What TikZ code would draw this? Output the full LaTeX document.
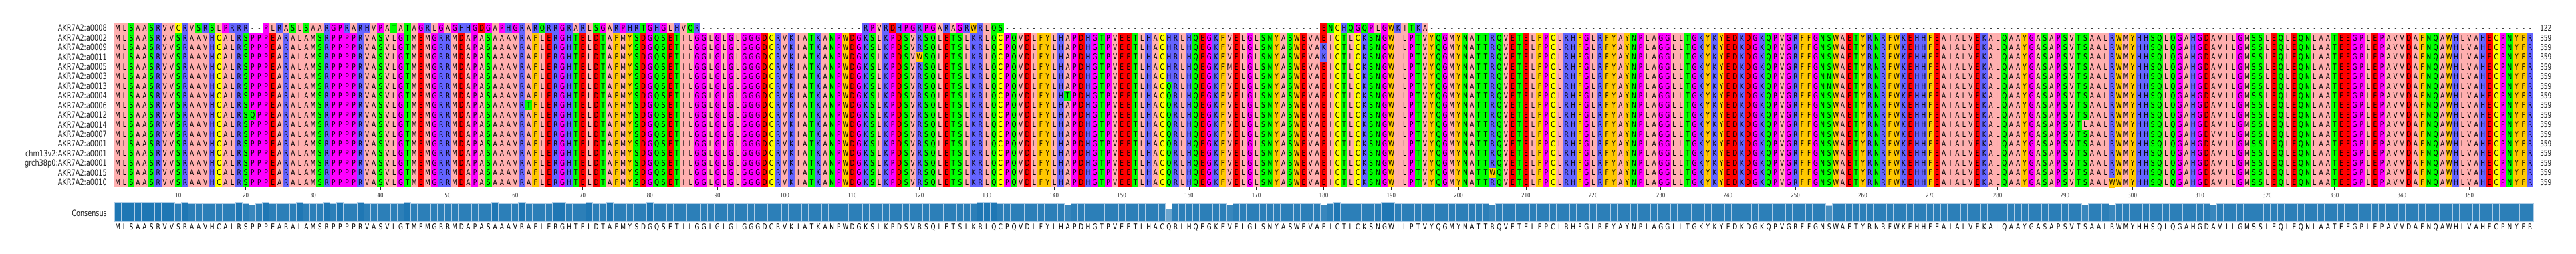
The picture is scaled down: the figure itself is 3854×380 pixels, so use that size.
\documentclass[tikz,border=0pt]{standalone}
\usepackage{fontspec}
\newfontfamily\dvs[FakeStretch=0.75]{DejaVu Sans}
\definecolor{zA}{HTML}{FFAFAF}\definecolor{zI}{HTML}{FFAFAF}\definecolor{zL}{HTML}{FFAFAF}
\definecolor{zV}{HTML}{FFAFAF}\definecolor{zM}{HTML}{FFAFAF}
\definecolor{zF}{HTML}{FFC800}\definecolor{zW}{HTML}{FFC800}\definecolor{zY}{HTML}{FFC800}
\definecolor{zK}{HTML}{6464FF}\definecolor{zR}{HTML}{6464FF}\definecolor{zH}{HTML}{6464FF}
\definecolor{zD}{HTML}{FF0000}\definecolor{zE}{HTML}{FF0000}
\definecolor{zS}{HTML}{00FF00}\definecolor{zT}{HTML}{00FF00}\definecolor{zN}{HTML}{00FF00}\definecolor{zQ}{HTML}{00FF00}
\definecolor{zP}{HTML}{FF00FF}\definecolor{zG}{HTML}{FF00FF}
\definecolor{zC}{HTML}{FFFF00}
\definecolor{barblue}{HTML}{1F77B4}
\definecolor{baredge}{RGB}{175,205,230}
\definecolor{txt}{HTML}{262626}
\tikzset{
  seqrow/.style={anchor=base west, yshift=-4.4pt, inner sep=0pt, text=black, font=\dvs\fontsize{12}{12}\selectfont},
  lab/.style={inner sep=0pt, text=txt, font=\dvs\fontsize{13}{13}\selectfont},
  numlab/.style={inner sep=0pt, text=txt, font=\dvs\fontsize{12}{12}\selectfont},
  ticklab/.style={inner sep=0pt, text=txt, font=\dvs\fontsize{9.5}{9.5}\selectfont},
  tickline/.style={draw=txt, line width=0.8pt},
  barstyle/.style={draw=baredge, line width=0.8pt}
}
\newcount\cc
\def\setcnt#1#2{\expandafter\def\csname cnt:#1\endcsname{#2}}
\def\runseq#1{\global\cc=0 \expandafter\doseq#1\relax}
\def\doseq#1{\ifx#1\relax\else\global\advance\cc by 1\relax\cellhook{#1}\expandafter\doseq\fi}
% text cell: fixed-pitch box, with override lookup
\def\txtcell#1{\edef\thechar{\ifcsname ov:\currow:\the\cc\endcsname\csname ov:\currow:\the\cc\endcsname\else#1\fi}\hbox to 10.0808pt{\hss\thechar\hss}}
% background of row 1
\def\onefill#1{\if#1-\else\fill[z#1] (\the\cc-1,0) rectangle (\the\cc+0.04,1.04);\fi}
% background of rows 2..17, one rectangle per column
\def\colfill#1{\fill[z#1] (\the\cc-1,1) rectangle (\the\cc+0.04,17);}
\def\mkdashes#1#2{\def#1{}\count255=0 \loop\ifnum\count255<#2 \edef#1{#1-}\advance\count255 by 1 \repeat}
\mkdashes\dA{24}\mkdashes\dB{47}\mkdashes\dC{164}
\edef\rowone{MLSAASRVVCRVSRSLPRRR--PLRASLSAARGPRARHVPATATAGRLGAGHHGDGAPHGRARQRRGRARLSGARPHRTGHGLHVQR\dA RPVRDHPGRPGARAGRWRLQS\dB ENCHQGQPLGWKITKA\dC}
\def\consensus{MLSAASRVVSRAAVHCALRSPPPEARALAMSRPPPPRVASVLGTMEMGRRMDAPASAAAVRAFLERGHTELDTAFMYSDGQSETILGGLGLGLGGGDCRVKIATKANPWDGKSLKPDSVRSQLETSLKRLQCPQVDLFYLHAPDHGTPVEETLHACQRLHQEGKFVELGLSNYASWEVAEICTLCKSNGWILPTVYQGMYNATTRQVETELFPCLRHFGLRFYAYNPLAGGLLTGKYKYEDKDGKQPVGRFFGNSWAETYRNRFWKEHHFEAIALVEKALQAAYGASAPSVTSAALRWMYHHSQLQGAHGDAVILGMSSLEQLEQNLAATEEGPLEPAVVDAFNQAWHLVAHECPNYFR}
% variants (row, column, residue)
\def\varlist{10/21/Q,9/62/T,4/120/W,8/142/T,2/157/H,3/157/H,4/157/H,5/157/H,6/157/H,5/166/M,3/180/K,4/180/K,16/205/W,6/255/N,7/255/N,11/293/L,17/297/W,12/312/V}
\foreach \r/\c/\a in \varlist {\global\expandafter\edef\csname ov:\r:\c\endcsname{\a}}
% consensus counts (default 16)
\foreach \c in {1,2,3,4,5,6,7,8,9,11,19,23,28,32,34,37,44,57,61,66,67,71,74,80,129,130,131,182,189,190} {\global\expandafter\def\csname cnt:\c\endcsname{17}}
\setcnt{21}{15}\setcnt{142}{15}\setcnt{157}{11}\setcnt{166}{15}\setcnt{180}{15}
\setcnt{205}{15}\setcnt{255}{14}\setcnt{293}{15}\setcnt{297}{15}\setcnt{312}{15}
\begin{document}
\begin{tikzpicture}[x=1pt,y=1pt]
\useasboundingbox (0,0) rectangle (3854,380);
\fill[white] (0,0) rectangle (3854,380);
% alignment
\begin{scope}[shift={(171,345)}, x=10.0808pt, y=-14.4118pt]
  \let\cellhook\onefill \runseq\rowone
  \let\cellhook\colfill \runseq\consensus
  \foreach \r/\c/\a in \varlist {\fill[z\a] (\c-1,\r-1) rectangle (\c+0.04,\r+0.04);}
  \let\cellhook\txtcell
  \def\currow{1}
  \node[seqrow] (row1) at (0,0.5) {\runseq\rowone};
  \foreach \r in {2,...,17} {
    \node[seqrow] (row\r) at (0,\r-0.5) {\edef\currow{\r}\runseq\consensus};
  }
\end{scope}
% labels
\foreach \lab [count=\r] in {AKR7A2:a0008,AKR7A2:a0002,AKR7A2:a0009,AKR7A2:a0011,AKR7A2:a0005,AKR7A2:a0003,AKR7A2:a0013,AKR7A2:a0004,AKR7A2:a0006,AKR7A2:a0012,AKR7A2:a0014,AKR7A2:a0007,AKR7A2:a0001,chm13v2:AKR7A2:a0001,grch38p0:AKR7A2:a0001,AKR7A2:a0015,AKR7A2:a0010} {
  \node[lab, anchor=base east] (name\r) at (160,{345-(\r-0.5)*14.4118-4.7}) {\lab};
  \ifnum\r=1 \def\len{122}\else\def\len{359}\fi
  \node[numlab, anchor=base west] (len\r) at (3800,{345-(\r-0.5)*14.4118-4.4}) {\len};
}
\node[lab, anchor=base east] (conslab) at (160,{61-4.7}) {Consensus};
% ticks, bars, consensus letters
\begin{scope}[shift={(171,0)}, x=10.0808pt, y=1pt]
  \foreach \t in {10,20,...,350} {
    \draw[tickline] (\t-0.5,100) -- (\t-0.5,95.5);
    \node[ticklab, anchor=base] (tick\t) at (\t-0.5,84.5) {\t};
  }
  \foreach \c in {1,...,359} {
    \ifcsname cnt:\c\endcsname \edef\n{\csname cnt:\c\endcsname}\else\def\n{16}\fi
    \pgfmathsetmacro\pct{100*\n/17}
    \pgfmathsetmacro\hh{49+28.3*\n/17}
    \fill[barblue!\pct!white, barstyle] (\c-1,49) rectangle (\c,\hh);
  }
  \def\currow{0}
  \let\cellhook\txtcell
  \node[seqrow] (consrow) at (0,41) {\runseq\consensus};
\end{scope}
\end{tikzpicture}
\end{document}
